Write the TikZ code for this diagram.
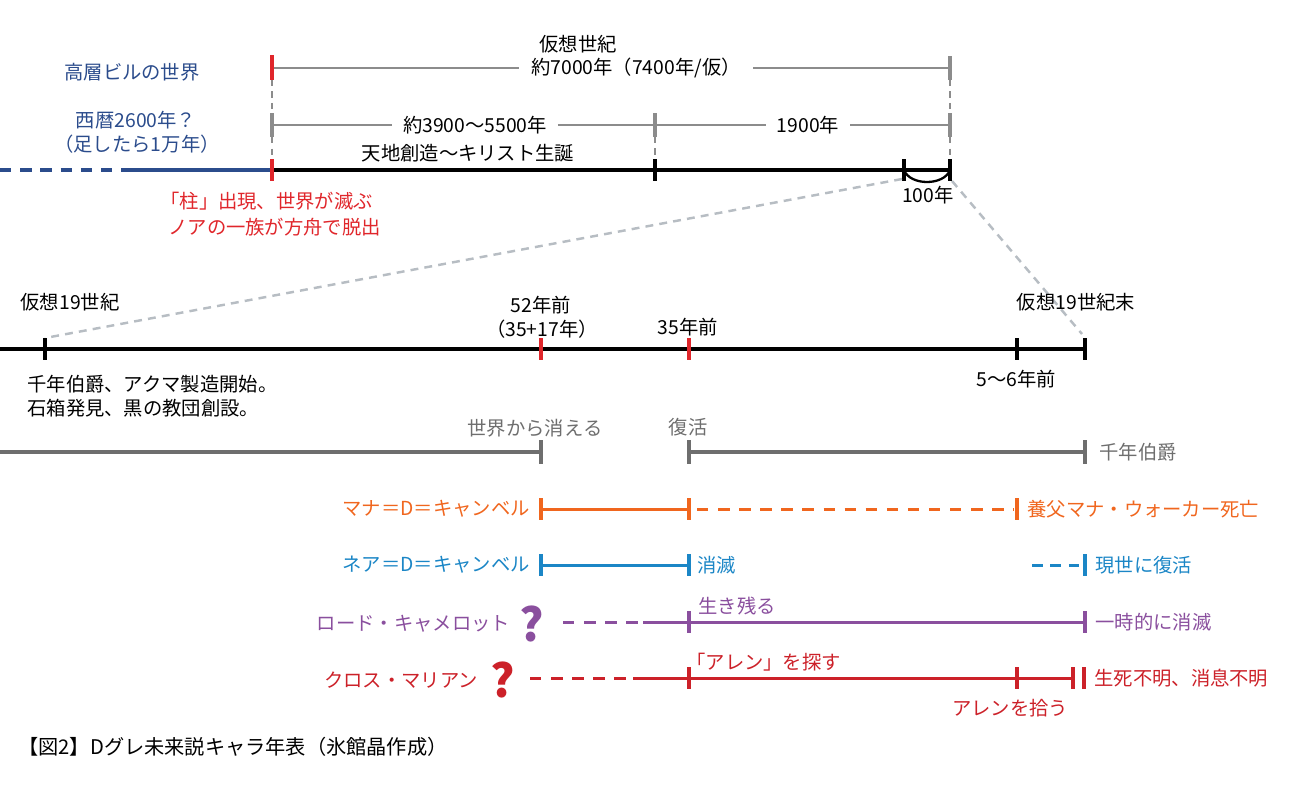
\documentclass[tikz,border=0pt]{standalone}
\usepackage{fontspec}
\setmainfont{Noto Sans CJK JP}
\usetikzlibrary{positioning}

\definecolor{navy}{HTML}{2B4C8C}
\definecolor{pillarred}{HTML}{E0262B}
\definecolor{measgray}{HTML}{8C8C8C}
\definecolor{earlgray}{HTML}{6E6E6E}
\definecolor{zoomgray}{HTML}{B7BDC3}
\definecolor{manaorange}{HTML}{F0661E}
\definecolor{neablue}{HTML}{1B86C6}
\definecolor{roadpurple}{HTML}{8A4F9E}
\definecolor{crossred}{HTML}{CC2129}

\tikzset{
  lbl/.style={inner sep=0pt, font=\fontsize{11}{13}\selectfont},
  axis/.style={line width=2.3pt},
  meas/.style={line width=1.1pt, measgray},
  guide/.style={line width=1pt, measgray, dash pattern=on 3.5pt off 3pt},
  zoomline/.style={line width=1.4pt, zoomgray, dash pattern=on 4.5pt off 3.5pt},
  life/.style={line width=1.7pt},
  lifedash/.style={line width=1.7pt, dash pattern=on 6.5pt off 5.5pt},
  tickmark/.style={line width=1.9pt},
  qmark/.style={inner sep=0pt, font=\fontsize{26}{26}\selectfont\bfseries}
}

\begin{document}
\begin{tikzpicture}[x=0.02cm, y=-0.02cm]
\useasboundingbox (0,0) rectangle (1300,791);

% --------
% Virtual era
% --------
\coordinate (leftend) at (0,170);
\coordinate (bluestart) at (125,170);
\coordinate (pillar) at (272,170);
\coordinate (christ) at (655,170);
\coordinate (lastcent) at (904,170);
\coordinate (present) at (950,170);
\coordinate (eraL) at (272,68);
\coordinate (eraR) at (950,68);
\coordinate (spanL) at (272,125);
\coordinate (spanM) at (655,125);
\coordinate (spanR) at (950,125);

\node[lbl] (era) at (578,44) {仮想世紀};
\node[lbl, inner xsep=7pt] (era7000) at (636,68) {約7000年（7400年/仮）};
\node[lbl, inner xsep=6pt] (span3900) at (475,125) {約3900〜5500年};
\node[lbl, inner xsep=6pt] (span1900) at (808,125) {1900年};
\node[lbl] (genesis) at (468,153) {天地創造〜キリスト生誕};
\node[lbl] (hundredyr) at (928,195) {100年};
\node[lbl, navy] (tower) at (132,72) {高層ビルの世界};
\node[lbl, navy] (ad2600) at (136,120) {西暦2600年？};
\node[lbl, navy] (tenk) at (137,144) {（足したら1万年）};
\node[lbl, pillarred, anchor=west] (flood1) at (160,201) {「柱」出現、世界が滅ぶ};
\node[lbl, pillarred, anchor=west] (flood2) at (168,227) {ノアの一族が方舟で脱出};

% Draw line
\draw[meas] (eraL) -- (era7000.west);
\draw[meas] (era7000.east) -- (eraR);
\draw[meas] (spanL) -- (span3900.west);
\draw[meas] (span3900.east) -- (spanM) -- (span1900.west);
\draw[meas] (span1900.east) -- (spanR);
\foreach \c in {eraR, spanL, spanM, spanR}
  \draw[meas, tickmark] (\c) +(0,-12) -- +(0,12);
\draw[tickmark, pillarred] (eraL) +(0,-13) -- +(0,12);
\draw[guide, shorten <=0.24cm, shorten >=0.22cm] (eraL) -- (pillar);
\draw[guide, shorten <=0.24cm, shorten >=0.22cm] (eraR) -- (present);
\draw[guide, shorten <=0.24cm, shorten >=0.22cm] (spanM) -- (christ);

\draw[axis, navy, dash pattern=on 6.5pt off 5pt] (leftend) -- (bluestart);
\draw[axis, navy] (bluestart) -- (pillar);
\draw[axis] (pillar) -- (present);
\foreach \c in {christ, lastcent, present}
  \draw[tickmark, line width=2.2pt] (\c) +(0,-11) -- +(0,11);
\draw[tickmark, line width=2.2pt, pillarred] (pillar) +(0,-11) -- +(0,11);
\draw[line width=1.3pt] (lastcent) .. controls +(6,16) and +(-6,16) .. (present);

% --------
% Virtual 19th century
% --------
\coordinate (midL) at (0,349);
\coordinate (c19) at (45,349);
\coordinate (y52) at (541,349);
\coordinate (y35) at (689,349);
\coordinate (y5) at (1017,349);
\coordinate (c19end) at (1085,349);
\coordinate (zoomA) at (902,179);
\coordinate (zoomB) at (952,181);
\coordinate (zoomC) at (45,338);
\coordinate (zoomD) at (1082,334);

\draw[zoomline] (zoomA) -- (zoomC);
\draw[zoomline] (zoomB) -- (zoomD);

\node[lbl] (c19lbl) at (70,302) {仮想19世紀};
\node[lbl] (y52lbl) at (541,305) {52年前};
\node[lbl] (y52sum) at (542,329) {（35+17年）};
\node[lbl] (y35lbl) at (688,327) {35年前};
\node[lbl] (c19endlbl) at (1076,302) {仮想19世紀末};
\node[lbl] (y5lbl) at (1016,379) {5〜6年前};
\node[lbl, anchor=west] (earl1) at (27,384) {千年伯爵、アクマ製造開始。};
\node[lbl, anchor=west] (earl2) at (27,408) {石箱発見、黒の教団創設。};

\draw[axis] (midL) -- (c19end);
\foreach \c in {c19, y5, c19end}
  \draw[tickmark, line width=2.2pt] (\c) +(0,-11) -- +(0,11);
\foreach \c in {y52, y35}
  \draw[tickmark, line width=2.2pt, pillarred] (\c) +(0,-11) -- +(0,11);

% --------
% Characters
% --------
\coordinate (earlL) at (0,452);
\coordinate (earlA) at (541,452);
\coordinate (earlB) at (689,452);
\coordinate (earlC) at (1085,452);
\node[lbl, earlgray] (vanish) at (535,428) {世界から消える};
\node[lbl, earlgray] (revive) at (688,427) {復活};
\node[lbl, earlgray, right=0.28cm of earlC] (earl) {千年伯爵};
\draw[life, earlgray, line width=2pt] (earlL) -- (earlA);
\draw[life, earlgray, line width=2pt] (earlB) -- (earlC);
\foreach \c in {earlA, earlB, earlC}
  \draw[tickmark, earlgray] (\c) +(0,-12) -- +(0,12);

\coordinate (manaA) at (541,509);
\coordinate (manaB) at (689,509);
\coordinate (manaC) at (1017,509);
\node[lbl, manaorange, left=0.22cm of manaA] (mana) {マナ＝D＝キャンベル};
\node[lbl, manaorange, right=0.2cm of manaC] (manadeath) {養父マナ・ウォーカー死亡};
\draw[life, manaorange] (manaA) -- (manaB);
\draw[lifedash, manaorange, shorten <=0.16cm, shorten >=0.06cm] (manaB) -- (manaC);
\foreach \c in {manaA, manaB, manaC}
  \draw[tickmark, manaorange] (\c) +(0,-11) -- +(0,11);

\coordinate (neaA) at (541,565);
\coordinate (neaB) at (689,565);
\coordinate (neaC) at (1032,565);
\coordinate (neaD) at (1085,565);
\node[lbl, neablue, left=0.22cm of neaA] (nea) {ネア＝D＝キャンベル};
\node[lbl, neablue, right=0.16cm of neaB] (neagone) {消滅};
\node[lbl, neablue, right=0.2cm of neaD] (neaback) {現世に復活};
\draw[life, neablue] (neaA) -- (neaB);
\draw[lifedash, neablue, dash pattern=on 6pt off 4.5pt] (neaC) -- (neaD);
\foreach \c in {neaA, neaB, neaD}
  \draw[tickmark, neablue] (\c) +(0,-11) -- +(0,11);

\coordinate (roadA) at (563,622);
\coordinate (roadB) at (643,622);
\coordinate (roadC) at (689,622);
\coordinate (roadD) at (1085,622);
\node[qmark, roadpurple] (roadq) at (532,624) {?};
\node[lbl, roadpurple, left=0.18cm of roadq] (road) {ロード・キャメロット};
\node[lbl, roadpurple, anchor=west] (survive) at (698,606) {生き残る};
\node[lbl, roadpurple, right=0.2cm of roadD] (roadgone) {一時的に消滅};
\draw[lifedash, roadpurple] (roadA) -- (roadB);
\draw[life, roadpurple] (roadB) -- (roadD);
\foreach \c in {roadC, roadD}
  \draw[tickmark, roadpurple] (\c) +(0,-11) -- +(0,11);

\coordinate (crossA) at (530,678);
\coordinate (crossB) at (633,678);
\coordinate (crossC) at (689,678);
\coordinate (crossD) at (1017,678);
\coordinate (crossE) at (1073,678);
\coordinate (crossF) at (1084,678);
\node[qmark, crossred] (crossq) at (503,680) {?};
\node[lbl, crossred, left=0.24cm of crossq] (cross) {クロス・マリアン};
\node[lbl, crossred, anchor=west] (seek) at (686,662) {「アレン」を探す};
\node[lbl, crossred] (pickup) at (1010,708) {アレンを拾う};
\node[lbl, crossred, right=0.2cm of crossF] (crossgone) {生死不明、消息不明};
\draw[lifedash, crossred] (crossA) -- (crossB);
\draw[life, crossred] (crossB) -- (crossE);
\foreach \c in {crossC, crossD, crossE, crossF}
  \draw[tickmark, crossred] (\c) +(0,-11) -- +(0,11);

\node[lbl, anchor=west, font=\fontsize{11.5}{13}\selectfont] (caption) at (18,747) {【図2】Dグレ未来説キャラ年表（氷館晶作成）};
\end{tikzpicture}
\end{document}
